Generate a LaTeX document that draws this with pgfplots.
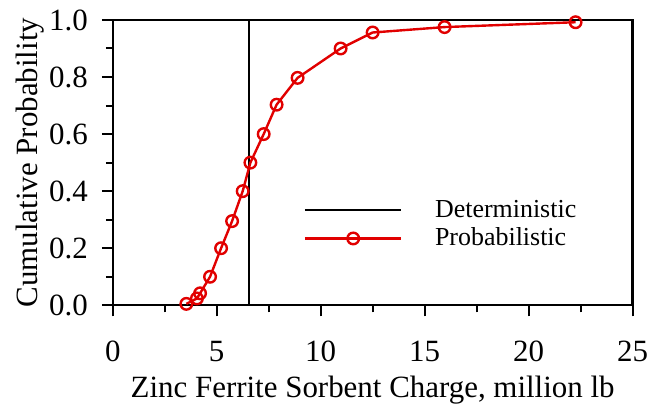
\documentclass[border=0pt]{standalone}
\usepackage{fontspec}
\setmainfont{Liberation Serif}
\usepackage{pgfplots}
\pgfplotsset{compat=1.18}
\definecolor{pred}{RGB}{225,0,0}
\begin{document}
\begin{tikzpicture}
\begin{axis}[
  scale only axis,
  width=260.5pt, height=143pt,
  xmin=0, xmax=25, ymin=0, ymax=1,
  xtick={0,5,...,25},
  minor xtick={2.5,7.5,...,22.5},
  ytick={0,0.2,...,1.0},
  minor ytick={0.1,0.3,...,0.9},
  xtick pos=bottom, ytick pos=left,
  tick align=outside,
  major tick length=5.5pt, minor tick length=3.5pt,
  every tick/.style={black, line width=1pt},
  axis line style={line width=1.2pt},
  /pgf/number format/assume math mode=true,
  yticklabel style={/pgf/number format/fixed,/pgf/number format/fixed zerofill,/pgf/number format/precision=1, font=\fontsize{15.5}{18}\selectfont, xshift=-3.5pt},
  xticklabel style={font=\fontsize{15.5}{18}\selectfont, yshift=-9pt, inner xsep=0pt},
  xlabel={Zinc Ferrite Sorbent Charge, million lb},
  ylabel={Cumulative Probability},
  label style={font=\fontsize{15.5}{18}\selectfont},
  xlabel style={yshift=0pt},
  ylabel style={yshift=-4.5pt},
  legend style={at={(axis cs:8.88,0.399)}, anchor=north west, draw=none, fill=none,
    font=\fontsize{13}{14.5}\selectfont, row sep=0pt},
  legend cell align=left,
  legend image code/.code={\draw[mark repeat=2,mark phase=2,#1] plot coordinates {(0cm,0cm) (0.85cm,0cm) (1.7cm,0cm)}; \path (2.2cm,0cm);},
]
\addplot[black, line width=1.1pt] coordinates {(6.56,0) (6.56,1)};
\addlegendentry{Deterministic}
\addplot[pred, line width=1.2pt, mark=o, mark size=2.9pt, mark options={fill=white, line width=1.2pt}] coordinates {
(3.54,0.005) (4.05,0.024) (4.20,0.042) (4.68,0.10) (5.21,0.20) (5.74,0.295) (6.25,0.40) (6.62,0.50) (7.26,0.60) (7.88,0.703) (8.89,0.797) (10.96,0.90) (12.5,0.956) (15.96,0.975) (22.26,0.992)
};
\addlegendentry{Probabilistic}
\end{axis}
\path ([xshift=-56.5pt,yshift=-45.5pt]current axis.south west) rectangle ([xshift=7.5pt,yshift=10pt]current axis.north east);
\end{tikzpicture}
\end{document}
